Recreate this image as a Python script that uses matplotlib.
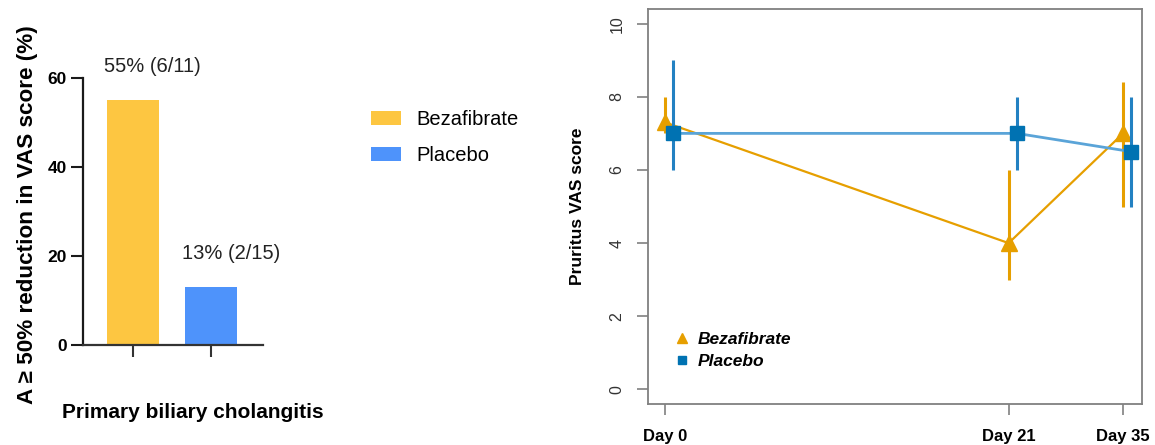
import matplotlib.pyplot as plt
from matplotlib.lines import Line2D

plt.rcParams['font.family'] = ['Liberation Sans', 'DejaVu Sans']

# ---- left panel: share of patients with >= 50% drop in VAS ----
groups = ["Bezafibrate", "Placebo"]
responders = [6, 2]
totals = [11, 15]
pct = [55, 13]
bar_colors = ["#FDC641", "#4E93FB"]

# ---- right panel: pruritus VAS score per visit ----
visit_labels = ["Day 0", "Day 21", "Day 35"]
visit_pos = [0, 21, 28]
beza_mid = [7.3, 4.0, 7.0]
beza_low = [7.0, 3.0, 5.0]
beza_high = [8.0, 6.0, 8.4]
plac_mid = [7.0, 7.0, 6.5]
plac_low = [6.0, 6.0, 5.0]
plac_high = [9.0, 8.0, 8.0]

orange = "#E69F00"
blue = "#0072B2"

fig = plt.figure(figsize=(11.55, 4.45), dpi=100)

# -------------------------------
# Bar chart
# -------------------------------
ax1 = fig.add_axes([0.0719, 0.2247, 0.1558, 0.6])
xs = list(range(len(groups)))
bars = ax1.bar(xs, pct, width=0.667, color=bar_colors, label=groups)
for i, b in enumerate(bars):
    ax1.annotate(f"{pct[i]}% ({responders[i]}/{totals[i]})",
                 xy=(b.get_x(), pct[i]), xytext=(-2, 24),
                 textcoords="offset points", ha="left", va="center",
                 fontsize=14.5, color="#222222")

ax1.set_xlim(-0.641, 1.667)
ax1.set_ylim(0, 60)
ax1.set_yticks([0, 20, 40, 60])
ax1.set_xticks(xs)
ax1.set_xticklabels([])
for lab in ax1.get_yticklabels():
    lab.set_fontweight("bold")
ax1.tick_params(axis="y", length=8.6, width=1.5, pad=3, labelsize=12.5,
                color="#1a1a1a")
ax1.tick_params(axis="x", length=8.6, width=1.5, color="#333333")
for s in ["top", "right"]:
    ax1.spines[s].set_visible(False)
ax1.spines["left"].set_linewidth(1.6)
ax1.spines["left"].set_color("#1a1a1a")
ax1.spines["bottom"].set_linewidth(1.6)
ax1.spines["bottom"].set_color("#333333")

ax1.set_ylabel("A \u2265 50% reduction in VAS score (%)", fontsize=16.2,
               fontweight="bold")
ax1.yaxis.label.set_verticalalignment("center")
ax1.yaxis.set_label_coords(-0.311, 0.49)
ax1.set_xlabel("Primary biliary cholangitis", fontsize=15, fontweight="bold")
ax1.xaxis.label.set_verticalalignment("center")
ax1.xaxis.set_label_coords(0.611, -0.251)

ax1.legend(handles=list(bars), labels=groups, loc="upper left",
           bbox_to_anchor=(0.3212, 0.752), bbox_transform=fig.transFigure,
           frameon=False, fontsize=14.5, handlelength=1.49, handleheight=0.7,
           handletextpad=0.75, labelspacing=0.85, borderpad=0,
           borderaxespad=0)

# -------------------------------
# Line chart with error bars
# -------------------------------
ax2 = fig.add_axes([0.5610, 0.0921, 0.4277, 0.8876])

beza_err = [[m - lo for m, lo in zip(beza_mid, beza_low)],
            [hi - m for m, hi in zip(beza_mid, beza_high)]]
plac_x = [p + 0.5 for p in visit_pos]
plac_err = [[m - lo for m, lo in zip(plac_mid, plac_low)],
            [hi - m for m, hi in zip(plac_mid, plac_high)]]

ax2.plot(visit_pos, beza_mid, color=orange, lw=1.6, zorder=2)
ax2.errorbar(visit_pos, beza_mid, yerr=beza_err, fmt="^", ms=11,
             color=orange, elinewidth=2.2, capsize=0, zorder=3)
ax2.plot(plac_x, plac_mid, color="#5AA4D8", lw=2.0, zorder=4)
ax2.errorbar(plac_x, plac_mid, yerr=plac_err, fmt="s", ms=9.5,
             color=blue, ecolor="#2381C2", elinewidth=2.2, capsize=0,
             zorder=5)

ax2.set_xlim(-1.05, 29.15)
ax2.set_ylim(-0.4, 10.4)
ax2.set_yticks(range(0, 11, 2))
ax2.set_xticks(visit_pos)
ax2.set_xticklabels(visit_labels, fontsize=12, fontweight="bold")
for lab in ax2.get_yticklabels():
    lab.set_rotation(90)
    lab.set_verticalalignment("center")
ax2.tick_params(axis="y", length=8, width=1.2, color="#808080",
                labelsize=11.5, pad=9, labelcolor="#333333")
ax2.tick_params(axis="x", length=8, width=1.2, color="#808080", pad=10)
for s in ax2.spines.values():
    s.set_color("#808080")
    s.set_linewidth(1.3)

ax2.set_ylabel("Pruritus VAS score", fontsize=12.5, fontweight="bold")
ax2.yaxis.label.set_verticalalignment("center")
ax2.yaxis.set_label_coords((578 - 648) / 494, 0.5)

handles = [Line2D([], [], ls="none", marker="^", ms=7, color=orange),
           Line2D([], [], ls="none", marker="s", ms=6, color=blue)]
leg = ax2.legend(handles=handles, labels=groups, loc="upper left",
                 bbox_to_anchor=(0.583, 0.254), bbox_transform=fig.transFigure,
                 frameon=False, handlelength=1.0, handletextpad=0.42,
                 labelspacing=0.4, borderpad=0, borderaxespad=0,
                 prop={"size": 12.5, "weight": "bold", "style": "italic"})

fig.savefig("out.png", dpi=100)
